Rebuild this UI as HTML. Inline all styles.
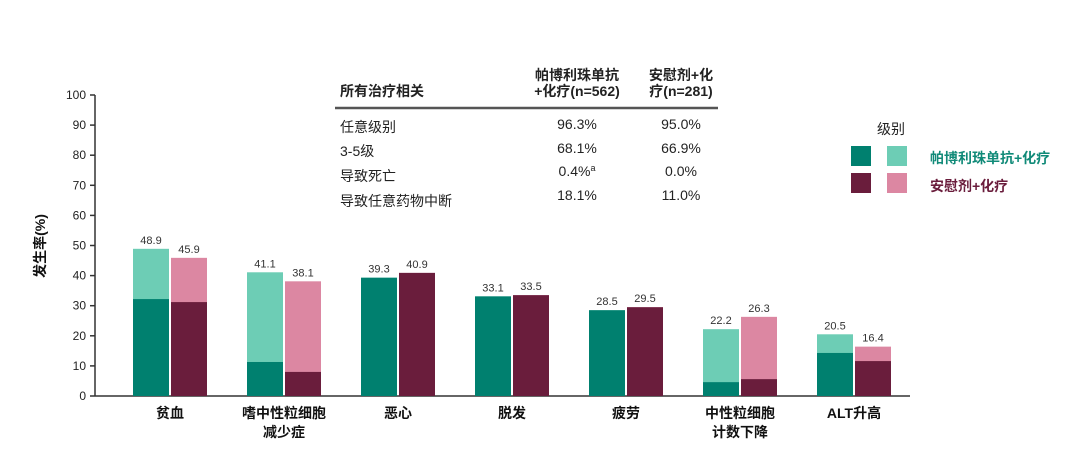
<!DOCTYPE html>
<html><head><meta charset="utf-8"><style>
html,body{margin:0;padding:0;background:#fff;}
body{width:1080px;height:466px;overflow:hidden;font-family:"Liberation Sans","Noto Sans CJK SC",sans-serif;}
svg text{font-family:"Liberation Sans","Noto Sans CJK SC",sans-serif;}
</style></head><body>
<svg width="1080" height="466" xmlns="http://www.w3.org/2000/svg">
<g id="axes"></g>
<g id="bars"></g>
<text transform="translate(45,246) rotate(-90)" text-anchor="middle" font-size="14" font-weight="bold" fill="#111">发生率(%)</text>
<g font-size="14" fill="#222">
<text x="340" y="96" font-weight="bold">所有治疗相关</text>
<text x="577" y="80" text-anchor="middle" font-weight="bold">帕博利珠单抗</text>
<text x="577" y="96" text-anchor="middle" font-weight="bold">+化疗(n=562)</text>
<text x="681" y="80" text-anchor="middle" font-weight="bold">安慰剂+化</text>
<text x="681" y="96" text-anchor="middle" font-weight="bold">疗(n=281)</text>
<line x1="335" y1="108" x2="718" y2="108" stroke="#555" stroke-width="2.5"/>
<text x="340" y="132">任意级别</text>
<text x="577" y="129" text-anchor="middle">96.3%</text>
<text x="681" y="129" text-anchor="middle">95.0%</text>
<text x="340" y="156">3-5级</text>
<text x="577" y="153" text-anchor="middle">68.1%</text>
<text x="681" y="153" text-anchor="middle">66.9%</text>
<text x="340" y="181">导致死亡</text>
<text x="577" y="176" text-anchor="middle">0.4%<tspan font-size="9" dy="-5">a</tspan></text>
<text x="681" y="176" text-anchor="middle">0.0%</text>
<text x="340" y="206">导致任意药物中断</text>
<text x="577" y="200" text-anchor="middle">18.1%</text>
<text x="681" y="200" text-anchor="middle">11.0%</text>
</g>
<g>
<text x="877" y="134" font-size="14" fill="#222">级别</text>
<rect x="851" y="146" width="20" height="20" fill="#00806f"/>
<rect x="887" y="146" width="20" height="20" fill="#6dcdb5"/>
<rect x="851" y="173" width="20" height="20" fill="#6a1d3c"/>
<rect x="887" y="173" width="20" height="20" fill="#dc87a2"/>
<text x="930" y="163" font-size="14" font-weight="bold" fill="#108a78">帕博利珠单抗+化疗</text>
<text x="930" y="191" font-size="14" font-weight="bold" fill="#6a1d3c">安慰剂+化疗</text>
</g>
</svg>
<script>
const categories=[["贫血"],["嗜中性粒细胞","减少症"],["恶心"],["脱发"],["疲劳"],["中性粒细胞","计数下降"],["ALT升高"]];
const pembroAny=[48.9,41.1,39.3,33.1,28.5,22.2,20.5];
const pembroSevere=[32.2,11.3,39.3,33.1,28.5,4.6,14.3];
const placeboAny=[45.9,38.1,40.9,33.5,29.5,26.3,16.4];
const placeboSevere=[31.2,8.0,40.9,33.5,29.5,5.6,11.6];
const yTicks=[0,10,20,30,40,50,60,70,80,90,100];
const NS="http://www.w3.org/2000/svg";
const y0=396,yTop=95,xL=95,xR=910;
const y=v=>y0-(v/100)*(y0-yTop);
const gx=i=>133+i*114;
function mk(t,a,p){const e=document.createElementNS(NS,t);for(const k in a)e.setAttribute(k,a[k]);p.appendChild(e);return e;}
const ax=document.getElementById('axes'),bg=document.getElementById('bars');
let l=mk('line',{x1:xL,y1:yTop,x2:xL,y2:y0,stroke:'#333','stroke-width':1.5},ax);


l=mk('line',{x1:xL,y1:y0,x2:xR,y2:y0,stroke:'#333','stroke-width':1.5},ax);


yTicks.forEach(v=>{
 const t=mk('line',{x1:xL-5,y1:y(v),x2:xL,y2:y(v),stroke:'#333','stroke-width':1.5},ax);
 
 
 const tx=mk('text',{x:xL-9,y:y(v)+4,'text-anchor':'end','font-size':12,fill:'#222'},ax);
 tx.textContent=v;
 
 
});
function bar(x,any,sev,cl,cd,name){
 const a=mk('rect',{x:x,y:y(any),width:36,height:y0-y(any),fill:cl},bg);
 
 
 const s=mk('rect',{x:x,y:y(sev),width:36,height:y0-y(sev),fill:cd},bg);
 
 
 const t=mk('text',{x:x+18,y:y(any)-5,'text-anchor':'middle','font-size':11,fill:'#333'},bg);
 t.textContent=any.toFixed(1);
 
 
}
categories.forEach((c,i)=>{
 bar(gx(i),pembroAny[i],pembroSevere[i],'#6dcdb5','#00806f','bar-pembro');
 bar(gx(i)+38,placeboAny[i],placeboSevere[i],'#dc87a2','#6a1d3c','bar-placebo');
 c.forEach((ln,j)=>{
  const t=mk('text',{x:gx(i)+37,y:418+j*19,'text-anchor':'middle','font-size':14,'font-weight':'bold',fill:'#111'},bg);
  t.textContent=ln;
  
  
 });
});
</script>
</body></html>
